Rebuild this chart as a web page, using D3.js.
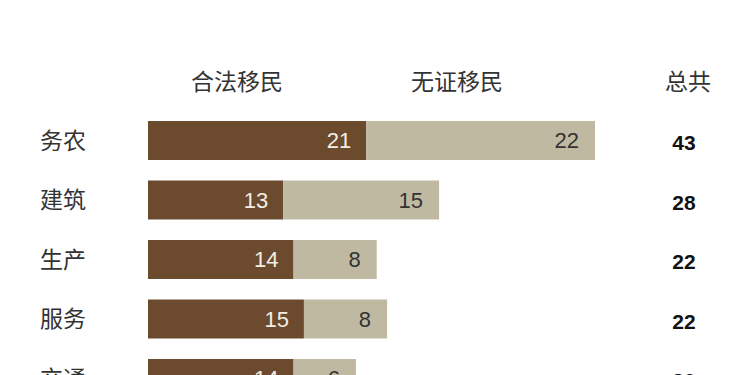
<!DOCTYPE html>
<html>
<head>
<meta charset="utf-8">
<script src="https://cdn.jsdelivr.net/npm/d3@7"></script>
<style>
  body { margin: 0; background: #fff; }
  svg { display: block; }
</style>
</head>
<body>
<div id="chart"></div>
<script>
// industries and shares (percent)
const categories = ["务农", "建筑", "生产", "服务", "交通"];
const legalValues = [21, 13, 14, 15, 14];
const unauthValues = [22, 15, 8, 8, 6];
const totals = [43, 28, 22, 22, 20];
const seriesNames = ["合法移民", "无证移民"];
const totalLabel = "总共";

const width = 750, height = 375;
const cjk = "'Noto Sans CJK SC', 'Noto Sans', sans-serif";
const num = "'Liberation Sans', Arial, sans-serif";

const x = d3.scaleLinear()
  .domain([0, 43])
  .range([148, 595]);

// 5 rows, step ~59.5, bar height ~39
const y = d3.scaleBand()
  .domain(categories)
  .range([121, 398])
  .paddingInner(0.345)
  .paddingOuter(0);

const svg = d3.select("#chart")
  .append("svg")
  .attr("width", width)
  .attr("height", height);

const rows = categories.map((c, i) => ({
  cat: c, legal: legalValues[i], unauth: unauthValues[i], total: totals[i]
}));

// column headers
svg.append("g")
  .selectAll("text")
  .data([
    {t: seriesNames[0], x: 237},
    {t: seriesNames[1], x: 457},
    {t: totalLabel, x: 688}
  ])
  .join("text")
  .attr("x", d => d.x)
  .attr("y", 82)
  .attr("dy", "0.35em")
  .attr("text-anchor", "middle")
  .attr("font-family", cjk)
  .attr("font-size", 23)
  .attr("fill", "#333")
  .text(d => d.t);

// category labels
svg.append("g")
  .selectAll("text")
  .data(rows)
  .join("text")
  .attr("x", 40)
  .attr("y", d => y(d.cat) + y.bandwidth() / 2)
  .attr("dy", "0.35em")
  .attr("font-family", cjk)
  .attr("font-size", 23)
  .attr("fill", "#333")
  .text(d => d.cat);

// bars
const bars = svg.append("g");
bars.selectAll("rect.legal")
  .data(rows)
  .join("rect")
  .attr("class", "legal")
  .attr("x", x(0))
  .attr("y", d => y(d.cat))
  .attr("width", d => x(d.legal) - x(0))
  .attr("height", y.bandwidth())
  .attr("fill", "#6b4a2e");

bars.selectAll("rect.unauth")
  .data(rows)
  .join("rect")
  .attr("class", "unauth")
  .attr("x", d => x(d.legal))
  .attr("y", d => y(d.cat))
  .attr("width", d => x(d.legal + d.unauth) - x(d.legal))
  .attr("height", y.bandwidth())
  .attr("fill", "#bfb9a2");

// value labels
bars.selectAll("text.legal")
  .data(rows)
  .join("text")
  .attr("class", "legal")
  .attr("x", d => x(d.legal) - 15)
  .attr("y", d => y(d.cat) + y.bandwidth() / 2)
  .attr("dy", "0.36em")
  .attr("text-anchor", "end")
  .attr("font-family", num)
  .attr("font-size", 22)
  .attr("fill", "#f3eee4")
  .text(d => d.legal);

bars.selectAll("text.unauth")
  .data(rows)
  .join("text")
  .attr("class", "unauth")
  .attr("x", d => x(d.legal + d.unauth) - 16)
  .attr("y", d => y(d.cat) + y.bandwidth() / 2)
  .attr("dy", "0.36em")
  .attr("text-anchor", "end")
  .attr("font-family", num)
  .attr("font-size", 22)
  .attr("fill", "#333")
  .text(d => d.unauth);

// totals
svg.append("g")
  .selectAll("text")
  .data(rows)
  .join("text")
  .attr("x", 684)
  .attr("y", d => y(d.cat) + y.bandwidth() / 2 + 2)
  .attr("dy", "0.36em")
  .attr("text-anchor", "middle")
  .attr("font-family", num)
  .attr("font-weight", "bold")
  .attr("font-size", 21)
  .attr("fill", "#111")
  .text(d => d.total);
</script>
</body>
</html>
